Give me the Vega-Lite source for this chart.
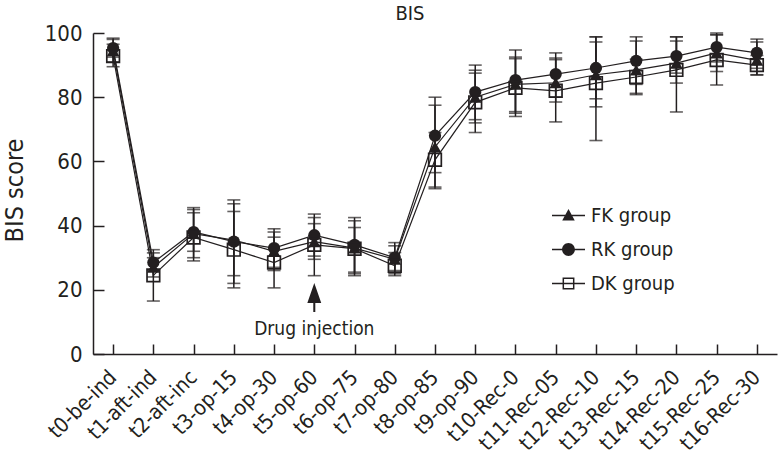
{
  "$schema": "https://vega.github.io/schema/vega-lite/v6.json",
  "width": 684,
  "height": 321,
  "autosize": {"type": "none"},
  "padding": {"left": 93, "top": 33, "right": 3, "bottom": 108},
  "background": "white",
  "config": {"view": {"stroke": null}, "font": "DejaVu Sans Condensed, Liberation Sans, sans-serif"},
  "title": {"text": "BIS", "fontSize": 20, "fontWeight": "normal", "font": "DejaVu Sans Condensed, Liberation Sans, sans-serif", "color": "#231f20", "dx": -25, "dy": 34, "offset": 12, "baseline": "bottom", "anchor": "middle"},
  "datasets": {
    "bis": [
      {"t": "t0-be-ind", "group": "FK group", "mean": 94.5, "lo": 91, "hi": 98},
      {"t": "t1-aft-ind", "group": "FK group", "mean": 27, "lo": 24, "hi": 30},
      {"t": "t2-aft-inc", "group": "FK group", "mean": 37.5, "lo": 30, "hi": 45.6},
      {"t": "t3-op-15", "group": "FK group", "mean": 35.5, "lo": 24.4, "hi": 46.8},
      {"t": "t4-op-30", "group": "FK group", "mean": 32, "lo": 26, "hi": 38},
      {"t": "t5-op-60", "group": "FK group", "mean": 35, "lo": 29.5, "hi": 40.6},
      {"t": "t6-op-75", "group": "FK group", "mean": 33, "lo": 25, "hi": 39.4},
      {"t": "t7-op-80", "group": "FK group", "mean": 29.5, "lo": 25, "hi": 33.7},
      {"t": "t8-op-85", "group": "FK group", "mean": 64.5, "lo": 51.5, "hi": 77.5},
      {"t": "t9-op-90", "group": "FK group", "mean": 80, "lo": 72, "hi": 88.4},
      {"t": "t10-Rec-0", "group": "FK group", "mean": 84, "lo": 75, "hi": 92.5},
      {"t": "t11-Rec-05", "group": "FK group", "mean": 84.5, "lo": 78.5, "hi": 92.2},
      {"t": "t12-Rec-10", "group": "FK group", "mean": 87, "lo": 77, "hi": 97.2},
      {"t": "t13-Rec-15", "group": "FK group", "mean": 88.5, "lo": 81.2, "hi": 97.5},
      {"t": "t14-Rec-20", "group": "FK group", "mean": 90.6, "lo": 84.4, "hi": 97.5},
      {"t": "t15-Rec-25", "group": "FK group", "mean": 93.8, "lo": 88, "hi": 99.5},
      {"t": "t16-Rec-30", "group": "FK group", "mean": 91.5, "lo": 87, "hi": 97.2},
      {"t": "t0-be-ind", "group": "RK group", "mean": 95.3, "lo": 92.5, "hi": 98.4},
      {"t": "t1-aft-ind", "group": "RK group", "mean": 28.5, "lo": 26, "hi": 31.5},
      {"t": "t2-aft-inc", "group": "RK group", "mean": 38, "lo": 32, "hi": 45},
      {"t": "t3-op-15", "group": "RK group", "mean": 35, "lo": 22, "hi": 48},
      {"t": "t4-op-30", "group": "RK group", "mean": 33, "lo": 27, "hi": 39},
      {"t": "t5-op-60", "group": "RK group", "mean": 37, "lo": 30.5, "hi": 42.5},
      {"t": "t6-op-75", "group": "RK group", "mean": 34, "lo": 25.5, "hi": 42.5},
      {"t": "t7-op-80", "group": "RK group", "mean": 30, "lo": 26, "hi": 34.7},
      {"t": "t8-op-85", "group": "RK group", "mean": 68, "lo": 56.5, "hi": 80},
      {"t": "t9-op-90", "group": "RK group", "mean": 81.6, "lo": 73, "hi": 90},
      {"t": "t10-Rec-0", "group": "RK group", "mean": 85.3, "lo": 75.5, "hi": 94.7},
      {"t": "t11-Rec-05", "group": "RK group", "mean": 87.2, "lo": 80, "hi": 93.8},
      {"t": "t12-Rec-10", "group": "RK group", "mean": 89.1, "lo": 79.5, "hi": 98.8},
      {"t": "t13-Rec-15", "group": "RK group", "mean": 91.3, "lo": 84, "hi": 98.8},
      {"t": "t14-Rec-20", "group": "RK group", "mean": 92.8, "lo": 87.5, "hi": 98.8},
      {"t": "t15-Rec-25", "group": "RK group", "mean": 95.6, "lo": 91, "hi": 100},
      {"t": "t16-Rec-30", "group": "RK group", "mean": 93.8, "lo": 89, "hi": 98.1},
      {"t": "t0-be-ind", "group": "DK group", "mean": 92.8, "lo": 89.5, "hi": 96.5},
      {"t": "t1-aft-ind", "group": "DK group", "mean": 24.5, "lo": 16.5, "hi": 32.5},
      {"t": "t2-aft-inc", "group": "DK group", "mean": 36.3, "lo": 29, "hi": 44},
      {"t": "t3-op-15", "group": "DK group", "mean": 32.5, "lo": 20.6, "hi": 44.4},
      {"t": "t4-op-30", "group": "DK group", "mean": 28.5, "lo": 20.6, "hi": 36.4},
      {"t": "t5-op-60", "group": "DK group", "mean": 34, "lo": 24.4, "hi": 43.6},
      {"t": "t6-op-75", "group": "DK group", "mean": 32.8, "lo": 24.4, "hi": 41.5},
      {"t": "t7-op-80", "group": "DK group", "mean": 27.5, "lo": 24.4, "hi": 31.6},
      {"t": "t8-op-85", "group": "DK group", "mean": 60.5, "lo": 52, "hi": 69},
      {"t": "t9-op-90", "group": "DK group", "mean": 78.4, "lo": 69, "hi": 87.5},
      {"t": "t10-Rec-0", "group": "DK group", "mean": 82.9, "lo": 74, "hi": 92},
      {"t": "t11-Rec-05", "group": "DK group", "mean": 82, "lo": 72.3, "hi": 91.7},
      {"t": "t12-Rec-10", "group": "DK group", "mean": 84.4, "lo": 66.5, "hi": 98.8},
      {"t": "t13-Rec-15", "group": "DK group", "mean": 86.3, "lo": 80.8, "hi": 91.8},
      {"t": "t14-Rec-20", "group": "DK group", "mean": 88.5, "lo": 75.4, "hi": 98.8},
      {"t": "t15-Rec-25", "group": "DK group", "mean": 91.6, "lo": 83.8, "hi": 99.4},
      {"t": "t16-Rec-30", "group": "DK group", "mean": 90, "lo": 86.9, "hi": 93}
    ],
    "note": [{"t": "t5-op-60", "label": "Drug injection", "ty": 5.9, "ay": 17.6}]
  },
  "encoding": {
    "x": {
      "field": "t", "type": "ordinal",
      "scale": {"type": "point", "padding": 0.5, "domain": ["t0-be-ind", "t1-aft-ind", "t2-aft-inc", "t3-op-15", "t4-op-30", "t5-op-60", "t6-op-75", "t7-op-80", "t8-op-85", "t9-op-90", "t10-Rec-0", "t11-Rec-05", "t12-Rec-10", "t13-Rec-15", "t14-Rec-20", "t15-Rec-25", "t16-Rec-30"]},
      "axis": {"title": null, "labelAngle": -45, "labelAlign": "right", "labelBaseline": "middle", "labelFontSize": 21, "labelColor": "#231f20", "tickSize": -10, "labelPadding": 30, "tickColor": "#231f20", "tickWidth": 1.5, "domainColor": "#231f20", "domainWidth": 1.5, "grid": false}
    }
  },
  "layer": [
    {
      "data": {"name": "bis"},
      "mark": {"type": "line", "strokeWidth": 1.2, "color": "#231f20"},
      "encoding": {
        "y": {"field": "mean", "type": "quantitative", "scale": {"domain": [0, 100], "nice": false},
          "axis": {"title": "BIS score", "values": [0, 20, 40, 60, 80, 100], "grid": false, "labelFontSize": 22, "labelColor": "#231f20", "tickSize": -11, "labelPadding": 22, "tickColor": "#231f20", "tickWidth": 1.5, "domainColor": "#231f20", "domainWidth": 1.5, "titleFontSize": 25, "titleFontWeight": "normal", "titleColor": "#231f20", "titleX": -71, "titleY": 157, "titleBaseline": "alphabetic", "titleAngle": -90, "titleAlign": "center"}},
        "detail": {"field": "group"}
      }
    },
    {
      "data": {"name": "bis"},
      "mark": {"type": "rule", "strokeWidth": 1.5, "color": "#231f20"},
      "encoding": {"y": {"field": "lo", "type": "quantitative"}, "y2": {"field": "hi"}}
    },
    {
      "data": {"name": "bis"},
      "mark": {"type": "tick", "size": 13, "thickness": 1.6, "color": "#231f20"},
      "encoding": {"y": {"field": "lo", "type": "quantitative"}}
    },
    {
      "data": {"name": "bis"},
      "mark": {"type": "tick", "size": 13, "thickness": 1.6, "color": "#231f20"},
      "encoding": {"y": {"field": "hi", "type": "quantitative"}}
    },
    {
      "data": {"name": "bis"},
      "transform": [{"filter": "datum.group === 'FK group'"}],
      "mark": {"type": "point", "shape": "triangle-up", "filled": true, "size": 160, "color": "#231f20", "opacity": 1},
      "encoding": {"y": {"field": "mean", "type": "quantitative"}}
    },
    {
      "data": {"name": "bis"},
      "transform": [{"filter": "datum.group === 'RK group'"}],
      "mark": {"type": "point", "shape": "circle", "filled": true, "size": 150, "color": "#231f20", "opacity": 1},
      "encoding": {"y": {"field": "mean", "type": "quantitative"}}
    },
    {
      "data": {"name": "bis"},
      "transform": [{"filter": "datum.group === 'DK group'"}],
      "mark": {"type": "point", "shape": "square", "filled": false, "size": 160, "strokeWidth": 1.7, "color": "#231f20", "opacity": 1},
      "encoding": {"y": {"field": "mean", "type": "quantitative"}}
    },
    {
      "data": {"name": "bis"},
      "mark": {"type": "point", "filled": true, "size": 0, "opacity": 0, "color": "#231f20"},
      "encoding": {
        "y": {"field": "mean", "type": "quantitative"},
        "shape": {
          "field": "group", "type": "nominal",
          "scale": {"domain": ["FK group", "RK group", "DK group"], "range": [
            "M-1,-0.045H1V0.045H-1Z M0,-0.4L0.38,0.3H-0.38Z",
            "M-1,-0.045H1V0.045H-1Z M0.39,0A0.39,0.39 0 1,1 -0.39,0A0.39,0.39 0 1,1 0.39,0Z",
            "M-1,-0.045H1V0.045H-1Z M-0.36,-0.36H0.36V0.36H-0.36Z M-0.27,-0.27V0.27H0.27V-0.27Z"
          ]},
          "legend": {"orient": "none", "legendX": 459, "legendY": 166, "title": null, "symbolSize": 1089, "symbolOpacity": 1, "symbolFillColor": "#231f20", "symbolStrokeWidth": 0, "labelFontSize": 20, "labelColor": "#231f20", "labelOffset": 6, "rowPadding": 7, "padding": 0,
            "encode": {"symbols": {"update": {"opacity": {"value": 1}, "fill": {"value": "#231f20"}, "fillOpacity": {"value": 1}, "strokeWidth": {"value": 0}}}}}
        }
      }
    },
    {
      "data": {"name": "note"},
      "mark": {"type": "point", "shape": "M0,-1L0.48,0.38L0.07,0.38L0.07,1L-0.07,1L-0.07,0.38L-0.48,0.38Z", "filled": true, "size": 841, "color": "#231f20", "opacity": 1},
      "encoding": {"y": {"field": "ay", "type": "quantitative"}}
    },
    {
      "data": {"name": "note"},
      "mark": {"type": "text", "fontSize": 19, "color": "#231f20", "align": "center", "baseline": "alphabetic"},
      "encoding": {"y": {"field": "ty", "type": "quantitative"}, "text": {"field": "label"}}
    }
  ]
}
